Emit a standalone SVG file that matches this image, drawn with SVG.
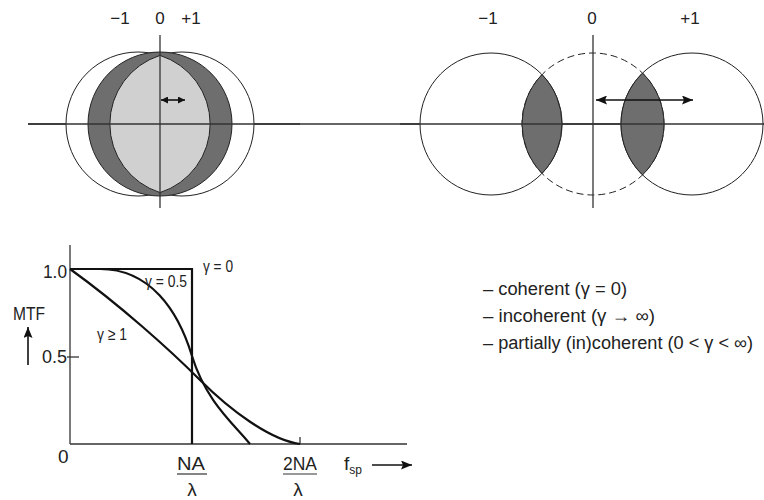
<svg xmlns="http://www.w3.org/2000/svg" width="764" height="500" viewBox="0 0 764 500">
<style>
text,tspan{font-family:"Liberation Sans",Arial,sans-serif;fill:#222}
.ax{stroke:#333;stroke-width:1.3;fill:none}
.c{stroke:#222;stroke-width:1;}
.dk{fill:#6e6e6e}
.lt{fill:#d0d0d0}
.cv{stroke:#111;stroke-width:2.2;fill:none}
.lbl{font-size:17px}
.gl{font-size:17px}
.num{font-size:19px}
.leg{font-size:18px}
</style>
<defs>
<marker id="arE" markerUnits="userSpaceOnUse" markerWidth="12" markerHeight="10" refX="11" refY="4.5" orient="auto"><path d="M0,0 L11,4.5 L0,9 L2,4.5 z" fill="#111"/></marker>
<marker id="arS" markerUnits="userSpaceOnUse" markerWidth="12" markerHeight="10" refX="0" refY="4.5" orient="auto"><path d="M11,0 L0,4.5 L11,9 L9,4.5 z" fill="#111"/></marker>
<marker id="arEs" markerUnits="userSpaceOnUse" markerWidth="8" markerHeight="8" refX="7" refY="3.5" orient="auto"><path d="M0,0 L7,3.5 L0,7 z" fill="#111"/></marker>
<marker id="arSs" markerUnits="userSpaceOnUse" markerWidth="8" markerHeight="8" refX="0" refY="3.5" orient="auto"><path d="M7,0 L0,3.5 L7,7 z" fill="#111"/></marker>
</defs>

<!-- shared horizontal axis -->
<line class="ax" x1="28" y1="124" x2="764" y2="124"/>

<g id="pupil-left">
<circle class="c" cx="138" cy="124" r="72" fill="#fff"/>
<circle class="c" cx="182" cy="124" r="72" fill="#fff"/>
<circle class="c dk" cx="160" cy="124" r="72"/>
<path class="c lt" d="M160,55.4 A72,72 0 0,1 160,192.6 A72,72 0 0,1 160,55.4 z"/>
<line class="ax" x1="28" y1="124" x2="300" y2="124"/>
<line class="ax" x1="160" y1="35" x2="160" y2="208"/>
<line x1="161" y1="100" x2="185" y2="100" stroke="#111" stroke-width="1.6" marker-start="url(#arSs)" marker-end="url(#arEs)"/>
<text class="lbl" x="120" y="24" text-anchor="middle">−1</text>
<text class="lbl" x="160" y="24" text-anchor="middle">0</text>
<text class="lbl" x="191" y="24" text-anchor="middle">+1</text>
</g>

<g id="pupil-right">
<circle class="c" cx="491" cy="124" r="71" fill="#fff"/>
<circle class="c" cx="692" cy="124" r="71" fill="#fff"/>
<circle cx="593" cy="124" r="71" fill="none" stroke="#222" stroke-width="1" stroke-dasharray="7 4"/>
<path class="c dk" d="M542,74.6 A71,71 0 0,1 542,173.4 A71,71 0 0,1 542,74.6 z"/>
<path class="c dk" d="M642.5,73.1 A71,71 0 0,1 642.5,174.9 A71,71 0 0,1 642.5,73.1 z"/>
<line class="ax" x1="400" y1="124" x2="764" y2="124"/>
<line class="ax" x1="593" y1="35" x2="593" y2="208"/>
<line x1="596" y1="100" x2="693" y2="100" stroke="#111" stroke-width="1.6" marker-start="url(#arS)" marker-end="url(#arE)"/>
<text class="lbl" x="488" y="24" text-anchor="middle">−1</text>
<text class="lbl" x="592" y="24" text-anchor="middle">0</text>
<text class="lbl" x="690" y="24" text-anchor="middle">+1</text>
</g>

<g id="mtf-graph">
<line class="ax" x1="70" y1="245" x2="70" y2="444"/>
<line class="ax" x1="70" y1="444" x2="407" y2="444"/>
<line class="ax" x1="67" y1="357" x2="79" y2="357"/>
<line class="ax" x1="300" y1="437" x2="300" y2="444"/>
<path class="cv" d="M70,269 L192,269 L192,444"/>
<path class="cv" d="M70,269 L100,269 C150,269 178,310 192,356 S235,425 250,444"/>
<path class="cv" d="M70,269 C120,305 170,350 200,380 S270,440 300,444"/>
<text class="num" x="43" y="278" textLength="24" lengthAdjust="spacingAndGlyphs">1.0</text>
<text class="num" x="42" y="363" textLength="25" lengthAdjust="spacingAndGlyphs">0.5</text>
<text class="num" x="58" y="463">0</text>
<text class="num" x="13" y="320" textLength="32" lengthAdjust="spacingAndGlyphs">MTF</text>
<line x1="28" y1="365" x2="28" y2="327" stroke="#111" stroke-width="1.6" marker-end="url(#arE)"/>
<text class="gl" x="203" y="272" textLength="30" lengthAdjust="spacingAndGlyphs">γ = 0</text>
<text class="gl" x="145" y="287" textLength="42" lengthAdjust="spacingAndGlyphs">γ = 0.5</text>
<text class="gl" x="97" y="340" textLength="30" lengthAdjust="spacingAndGlyphs">γ ≥ 1</text>
<text class="num" x="177" y="470" textLength="28" lengthAdjust="spacingAndGlyphs">NA</text>
<line x1="177" y1="474" x2="207" y2="474" stroke="#333" stroke-width="1.2"/>
<text class="num" x="192" y="496" text-anchor="middle">λ</text>
<text class="num" x="283" y="470" textLength="34" lengthAdjust="spacingAndGlyphs">2NA</text>
<line x1="283" y1="474" x2="317" y2="474" stroke="#333" stroke-width="1.2"/>
<text class="num" x="298" y="496" text-anchor="middle">λ</text>
<text class="num" x="344" y="470">f<tspan font-size="12" dy="4">sp</tspan></text>
<line x1="372" y1="465" x2="412" y2="465" stroke="#111" stroke-width="1.6" marker-end="url(#arE)"/>
</g>

<g id="legend">
<text class="leg" x="483" y="295" textLength="144" lengthAdjust="spacingAndGlyphs">– coherent (γ = 0)</text>
<text class="leg" x="483" y="322" textLength="172" lengthAdjust="spacingAndGlyphs">– incoherent (γ → ∞)</text>
<text class="leg" x="483" y="349" textLength="270" lengthAdjust="spacingAndGlyphs">– partially (in)coherent (0 &lt; γ &lt; ∞)</text>
</g>
</svg>
